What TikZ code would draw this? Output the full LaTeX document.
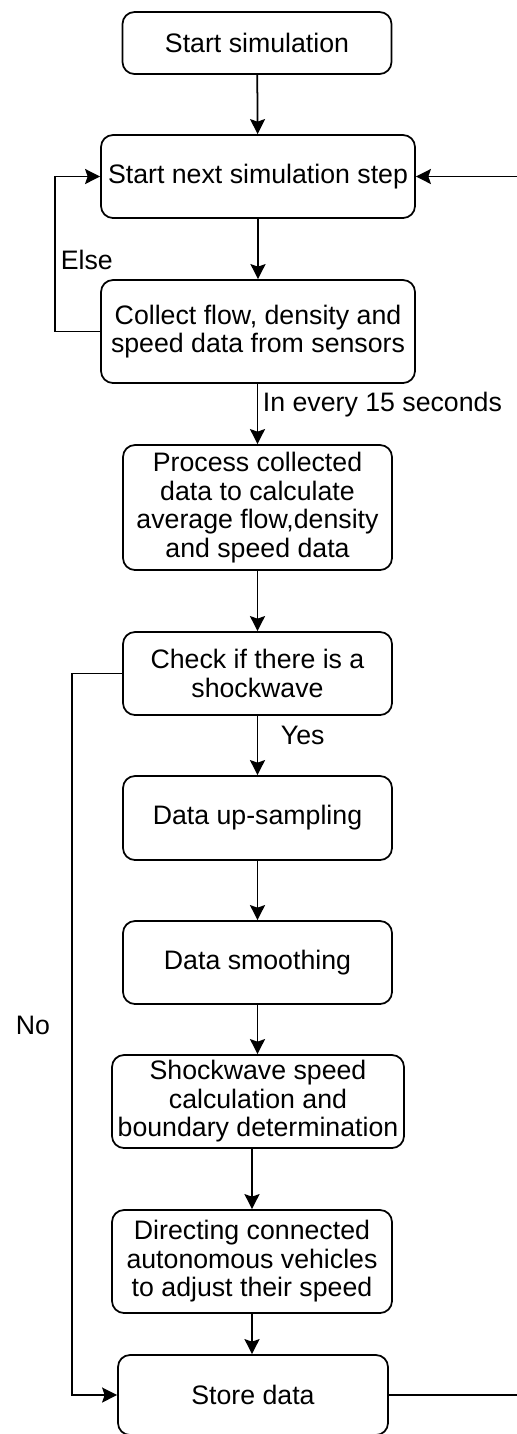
\documentclass[tikz,border=0pt]{standalone}
\usepackage{fontspec}
\setmainfont{Liberation Sans}
\usepackage{tikz}
\usetikzlibrary{
    arrows.meta,
    positioning,
    calc
}

\begin{document}
\begin{tikzpicture}[every path/.style={line width=1pt},
    proc/.style={draw, rounded corners=0.24cm, align=center, inner sep=1pt,
                 font=\fontsize{15.2}{16.2}\selectfont},
    lbl/.style={font=\fontsize{15.2}{16.2}\selectfont, inner sep=0pt},
    arr/.style={-{Stealth[length=0.3cm,width=0.3cm,inset=0.05cm]}}]
  \def\bw{5.38}
  \useasboundingbox (0,0) rectangle (10.34,-28.68);
  \node[proc, minimum width=\bw cm, minimum height=1.24cm] (start) at (5.14,-0.86) {Start simulation};
  \node[proc, minimum width=6.28cm, minimum height=1.66cm] (nextstep) at (5.16,-3.53) {Start next simulation step};
  \node[proc, minimum width=6.28cm, minimum height=2.06cm] (collect) at (5.16,-6.63) {Collect flow, density and\\speed data from sensors};
  \node[proc, minimum width=\bw cm, minimum height=2.5cm] (process) at (5.15,-10.15) {Process collected\\data to calculate\\average flow,density\\and speed data};
  \node[proc, minimum width=\bw cm, minimum height=1.66cm] (check) at (5.15,-13.47) {Check if there is a\\shockwave};
  \node[proc, minimum width=\bw cm, minimum height=1.68cm] (upsample) at (5.15,-16.36) {Data up-sampling};
  \node[proc, minimum width=\bw cm, minimum height=1.66cm] (smooth) at (5.15,-19.25) {Data smoothing};
  \node[proc, minimum width=5.84cm, minimum height=1.86cm] (shockspeed) at (5.16,-22.03) {Shockwave speed\\calculation and\\boundary determination};
  \node[proc, minimum width=5.6cm, minimum height=2.06cm] (direct) at (5.04,-25.23) {Directing connected\\autonomous vehicles\\to adjust their speed};
  \node[proc, minimum width=5.4cm, minimum height=1.6cm] (store) at (5.06,-27.9) {Store data};

  \node[lbl, anchor=west] (elselbl) at (1.2,-5.2) {Else};
  \node[lbl, anchor=west] (everylbl) at (5.24,-8.1) {In every 15 seconds};
  \node[lbl, anchor=west] (yeslbl) at (5.6,-14.7) {Yes};
  \node[lbl] (nolbl) at (0.66,-20.5) {No};

  \coordinate (backin) at (10.34,-3.53);
  \coordinate (backout) at (10.34,-27.9);

  \draw[arr] (start) -- (nextstep);
  \draw[arr] (nextstep) -- (collect);
  \draw[arr] (collect.south -| process.north) -- (process);
  \draw[arr] (process) -- (check);
  \draw[arr] (check) -- (upsample);
  \draw[arr] (upsample) -- (smooth);
  \draw[arr] (smooth.south) -- (smooth.south |- shockspeed.north);
  \draw[arr] (direct.north |- shockspeed.south) -- (direct.north);
  \draw[arr] (direct.south) -- (direct.south |- store.north);
  \draw[arr] (collect.west) -- ++(-0.9,0) |- (nextstep.west);
  \draw[arr] (check.west) -- ++(-1.0,0) |- (store.west);
  \draw (store.east) -- (backout);
  \draw[arr] (backin) -- (nextstep.east);
\end{tikzpicture}
\end{document}
